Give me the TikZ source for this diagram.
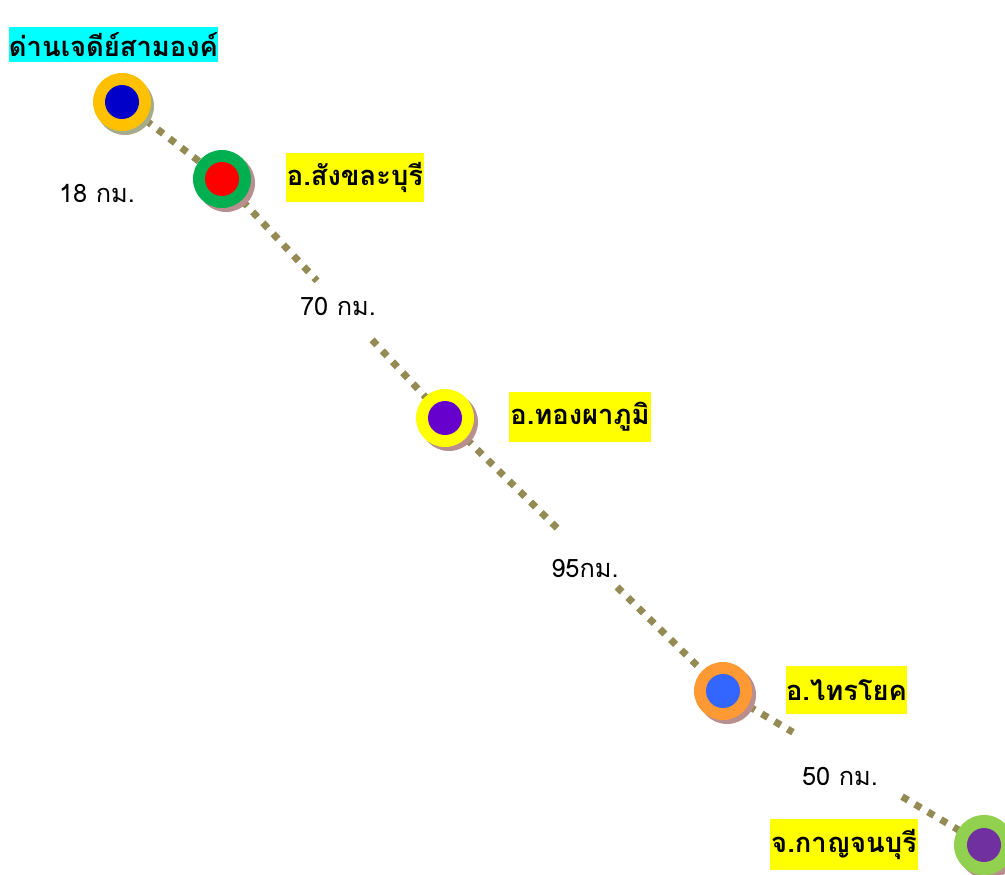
\documentclass[tikz,border=0pt]{standalone}
\usepackage{fontspec}
\setmainfont{Loma}[Script=Thai]
\usetikzlibrary{calc,shadows}
\definecolor{route}{RGB}{148,138,84}
\definecolor{shadowA}{RGB}{165,172,140}
\definecolor{shadowB}{RGB}{185,142,142}
\definecolor{goldring}{RGB}{255,192,0}
\definecolor{navyin}{RGB}{0,0,200}
\definecolor{greenring}{RGB}{0,176,80}
\definecolor{yelring}{RGB}{255,255,0}
\definecolor{violetin}{RGB}{102,0,204}
\definecolor{orangering}{RGB}{255,153,51}
\definecolor{bluein}{RGB}{51,102,255}
\definecolor{limering}{RGB}{146,208,80}
\definecolor{plumin}{RGB}{112,48,160}
\definecolor{rgbred}{RGB}{255,0,0}
\definecolor{hlyellow}{RGB}{255,255,0}
\definecolor{hlcyan}{RGB}{0,255,255}
\tikzset{
  routeline/.style={draw=route, line width=7*0.75pt, dash pattern=on 7*0.75pt off 8*0.75pt},
  outerdot/.style={circle, inner sep=0pt, minimum size=58*0.75pt},
  innerdot/.style={circle, inner sep=0pt, minimum size=34*0.75pt},
  shA/.style={drop shadow={shadow xshift=3*0.75pt, shadow yshift=-4*0.75pt, fill=shadowA, opacity=1}},
  shB/.style={drop shadow={shadow xshift=4*0.75pt, shadow yshift=-4*0.75pt, fill=shadowB, opacity=1}},
  place/.style={fill=hlyellow, inner sep=0pt, font=\fontsize{20.5}{24}\selectfont\bfseries},
  dist/.style={inner sep=0pt, font=\fontsize{19}{22}\selectfont}
}
\begin{document}
\begin{tikzpicture}[x=0.75pt,y=-0.75pt]
\useasboundingbox (0,0) rectangle (1005,874);
% anchor points
\coordinate (p1) at (122,102);
\coordinate (p2) at (222,179);
\coordinate (p3) at (445,418);
\coordinate (p4) at (723,691);
\coordinate (p5) at (984,845);
\coordinate (g2a) at ($(p2)!0.426!(p3)$);
\coordinate (g2b) at ($(p2)!0.673!(p3)$);
\coordinate (g3a) at ($(p3)!0.403!(p4)$);
\coordinate (g3b) at ($(p3)!0.619!(p4)$);
\coordinate (g4a) at ($(p4)!0.268!(p5)$);
\coordinate (g4b) at ($(p4)!0.686!(p5)$);
% route
\draw[routeline] (p1) -- (p2);
\draw[routeline] (p2) -- (g2a);
\draw[routeline] (g2b) -- (p3);
\draw[routeline] (p3) -- (g3a);
\draw[routeline] (g3b) -- (p4);
\draw[routeline] (p4) -- (g4a);
\draw[routeline] (g4b) -- (p5);
% stops
\node[outerdot, fill=goldring, shA] (c1) at (p1) {};
\node[innerdot, fill=navyin] (c1i) at (p1) {};
\node[outerdot, fill=greenring, shB] (c2) at (p2) {};
\node[innerdot, fill=rgbred] (c2i) at (p2) {};
\node[outerdot, fill=yelring, shB] (c3) at (p3) {};
\node[innerdot, fill=violetin] (c3i) at (p3) {};
\node[outerdot, fill=orangering, shB] (c4) at (p4) {};
\node[innerdot, fill=bluein] (c4i) at (p4) {};
\node[outerdot, fill=limering, minimum size=60*0.75pt, shB] (c5) at (p5) {};
\node[innerdot, fill=plumin] (c5i) at (p5) {};
% place names
\node[place, fill=hlcyan, minimum width=207*0.75pt, minimum height=35*0.75pt] (n1) at (113.5,44.5) {ด่านเจดีย์สามองค์};
\node[place, minimum width=138*0.75pt, minimum height=49*0.75pt] (n2) at (355,177.5) {อ.สังขละบุรี};
\node[place, minimum width=142*0.75pt, minimum height=50*0.75pt] (n3) at (580,417) {อ.ทองผาภูมิ};
\node[place, minimum width=113*0.75pt, minimum height=48*0.75pt] (n4) at (846.5,690) {อ.ไทรโยค};
\node[place, minimum width=148*0.75pt, minimum height=51*0.75pt] (n5) at (844,844.5) {จ.กาญจนบุรี};
% distances
\node[dist] (d1) at (97,193) {18 กม.};
\node[dist] (d2) at (338,306) {70 กม.};
\node[dist] (d3) at (585,568) {95กม.};
\node[dist] (d4) at (840,776) {50 กม.};
\end{tikzpicture}
\end{document}
